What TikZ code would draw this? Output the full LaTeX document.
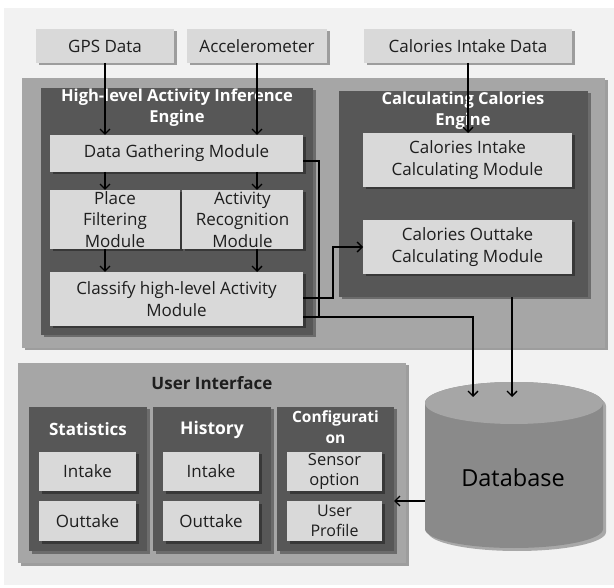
\documentclass[tikz,border=0pt]{standalone}
\usepackage{fontspec}
\setmainfont{Open Sans}
\usetikzlibrary{arrows.meta,shadows}
\definecolor{bgc}{HTML}{F2F2F2}
\definecolor{lightc}{HTML}{D9D9D9}
\definecolor{midc}{HTML}{A6A6A6}
\definecolor{darkc}{HTML}{575757}
\definecolor{txtc}{HTML}{1E1E1E}
\definecolor{dbtop}{HTML}{A6A6A6}
\definecolor{dbside}{HTML}{8A8A8A}
\begin{document}
\begin{tikzpicture}[x=1pt,y=-1pt,
 sh/.style={drop shadow={shadow xshift=2.5pt,shadow yshift=-2.5pt,opacity=.35,fill=black}},
 panel/.style={anchor=north west,inner sep=0pt,outer sep=0pt,sh},
 lbox/.style={panel,fill=lightc,text=txtc,align=center,font=\fontsize{17}{21.5}\selectfont},
 mbox/.style={panel,fill=midc},
 dbox/.style={panel,fill=darkc},
 wtitle/.style={text=white,font=\bfseries\fontsize{16.5}{21}\selectfont,align=center,inner sep=0pt},
 ktitle/.style={text=txtc,font=\bfseries\fontsize{17}{20}\selectfont,align=center,inner sep=0pt},
 arr/.style={draw=black,line width=1.3pt,-{Straight Barb[length=5pt,width=10pt,line width=1.3pt]}},
 ln/.style={draw=black,line width=1.3pt}]

\useasboundingbox (0,0) rectangle (614,588);
\fill[bgc] (4,8) rectangle (614,585);

% inputs
\node[lbox,minimum width=138pt,minimum height=34pt] (gps) at (36,29) {GPS Data};
\node[lbox,minimum width=140pt,minimum height=34pt] (acc) at (187,29) {Accelerometer};
\node[lbox,minimum width=208pt,minimum height=34pt] (cid) at (364,29) {Calories Intake Data};

% main panel
\node[mbox,minimum width=583pt,minimum height=270pt] (main) at (22,78) {};
\node[dbox,minimum width=272pt,minimum height=247pt] (hlaie) at (41,88) {};
\node[wtitle] (hlaiet) at (177,108) {High-level Activity Inference\\Engine};
\node[lbox,minimum width=253pt,minimum height=37pt] (dgm) at (50,135) {Data Gathering Module};
\node[lbox,minimum width=130pt,minimum height=59pt] (place) at (50,190) {Place\\Filtering\\Module};
\node[lbox,minimum width=121pt,minimum height=59pt] (act) at (182,190) {Activity\\Recognition\\Module};
\node[lbox,minimum width=253pt,minimum height=54pt] (classify) at (50,272) {Classify high-level Activity\\Module};

\node[dbox,minimum width=249pt,minimum height=206pt] (cce) at (339,91) {};
\node[wtitle] (ccet) at (463,111) {Calculating Calories\\Engine};
\node[lbox,minimum width=209pt,minimum height=54pt] (cim) at (363,133) {Calories Intake\\Calculating Module};
\node[lbox,minimum width=209pt,minimum height=54pt] (com) at (363,220) {Calories Outtake\\Calculating Module};

% user interface
\node[mbox,minimum width=388pt,minimum height=200pt] (ui) at (18,363) {};
\node[ktitle] (uit) at (212,383) {User Interface};
\node[dbox,minimum width=118pt,minimum height=144pt] (stat) at (29,407) {};
\node[dbox,minimum width=118pt,minimum height=144pt] (hist) at (153,407) {};
\node[dbox,minimum width=117pt,minimum height=144pt] (conf) at (277,407) {};
\node[wtitle,font=\bfseries\fontsize{17}{21}\selectfont] (statt) at (88,429) {Statistics};
\node[wtitle,font=\bfseries\fontsize{17.5}{21}\selectfont] (histt) at (212,430) {History};
\node[wtitle,font=\bfseries\fontsize{15.5}{21}\selectfont] (conft) at (335.5,427) {Configurati\\on};
\node[lbox,minimum width=97pt,minimum height=39pt] (si) at (39,452) {Intake};
\node[lbox,minimum width=97pt,minimum height=40pt] (so) at (39,501) {Outtake};
\node[lbox,minimum width=96pt,minimum height=39pt] (hi) at (163,452) {Intake};
\node[lbox,minimum width=96pt,minimum height=40pt] (ho) at (163,501) {Outtake};
\node[lbox,minimum width=95pt,minimum height=39pt,font=\fontsize{16.5}{20}\selectfont] (sens) at (287,452) {Sensor\\option};
\node[lbox,minimum width=95pt,minimum height=40pt,font=\fontsize{16}{19.5}\selectfont] (prof) at (287,501) {User\\Profile};

% database cylinder
\fill[black,opacity=.3] (428,406) -- (428,532) arc[start angle=180,end angle=360,x radius=89pt,y radius=19pt] -- (606,406) arc[start angle=0,end angle=180,x radius=89pt,y radius=21pt] -- cycle;
\fill[dbside] (425,403) -- (425,529) arc[start angle=180,end angle=360,x radius=89pt,y radius=19pt] -- (603,403) arc[start angle=0,end angle=180,x radius=89pt,y radius=21pt] -- cycle;
\fill[dbtop] (514,403) ellipse[x radius=89pt,y radius=21pt];
\node[inner sep=0pt,text=black,font=\fontsize{23.5}{26}\selectfont] (db) at (513,478) {Database};

% connectors
\coordinate (dj) at (319,161);
\coordinate (cj) at (473,317);
\coordinate (oj) at (333,298);
\coordinate (dbin1) at (473,397);
\coordinate (dbin2) at (512,397);
\coordinate (dbl) at (425,501);

\draw[arr] (gps.south) -- (gps.south |- dgm.north);
\draw[arr] (acc.south) -- (acc.south |- dgm.north);
\draw[arr] (cid.south) -- (cid.south |- cim.north);
\draw[arr] (dgm.south -| gps.south) -- (place.north -| gps.south);
\draw[arr] (dgm.south -| acc.south) -- (act.north -| acc.south);
\draw[arr] (place.south -| gps.south) -- (classify.north -| gps.south);
\draw[arr] (act.south -| acc.south) -- (classify.north -| acc.south);
\draw[ln] (dgm.east |- dj) -- (dj) -- (dj |- cj);
\draw[arr] (classify.east |- cj) -- (cj) -- (dbin1);
\draw[arr] (classify.east |- oj) -- (oj) -- (oj |- com.west) -- (com.west);
\draw[arr] (cce.south -| dbin2) -- (dbin2);
\draw[arr] (dbl) -- (dbl -| conf.east);
\end{tikzpicture}
\end{document}
